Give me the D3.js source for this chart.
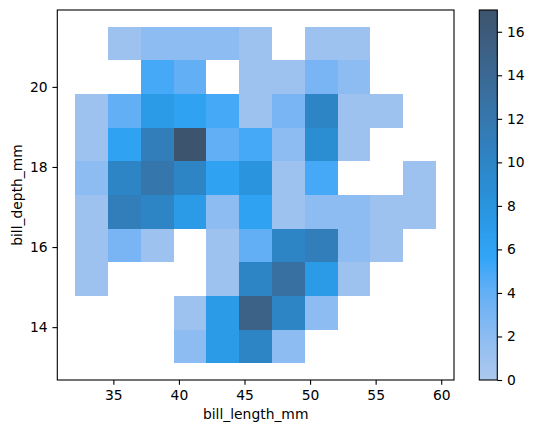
<!DOCTYPE html>
<html><head><meta charset="utf-8">
<script src="https://cdn.jsdelivr.net/npm/d3@7"></script>
<style>
body { margin: 0; background: #fff; }
svg text { font-family: "DejaVu Sans", sans-serif; font-size: 13.89px; fill: #000; }
</style>
</head><body><div id="chart"></div>
<script>
// bin edges (mm)
var lengthEdges = [32.1, 34.6, 37.1, 39.6, 42.1, 44.6, 47.1, 49.6, 52.1, 54.6, 57.1, 59.6];
var depthEdges = [13.1, 13.94, 14.78, 15.62, 16.46, 17.3, 18.14, 18.98, 19.82, 20.66, 21.5];
// counts, one row per depth bin (bottom row first), one column per length bin
var counts = [
    [0, 0, 0, 2, 7, 10, 2, 0, 0, 0, 0],
    [0, 0, 0, 1, 7, 15, 10, 2, 0, 0, 0],
    [1, 0, 0, 0, 1, 10, 13, 7, 1, 0, 0],
    [1, 3, 1, 0, 1, 4, 10, 11, 2, 1, 0],
    [1, 11, 10, 7, 2, 6, 1, 2, 2, 1, 1],
    [2, 10, 12, 10, 6, 8, 1, 5, 0, 0, 1],
    [1, 6, 11, 17, 4, 5, 2, 9, 1, 0, 0],
    [1, 4, 7, 6, 5, 1, 3, 10, 1, 1, 0],
    [0, 0, 5, 4, 0, 1, 1, 3, 2, 0, 0],
    [0, 1, 2, 2, 2, 1, 0, 1, 1, 0, 0]
];
var xTicks = [35, 40, 45, 50, 55, 60];
var yTicks = [14, 16, 18, 20];
var cTicks = [0, 2, 4, 6, 8, 10, 12, 14, 16];

/* husl colour ramp, light for low counts, dark for high ones */
var M = [[3.2406, -1.5372, -0.4986], [-0.9689, 1.8758, 0.0415], [0.0557, -0.2040, 1.0570]];
var M_INV = [[0.4124, 0.3576, 0.1805], [0.2126, 0.7152, 0.0722], [0.0193, 0.1192, 0.9505]];
var REF_U = 0.19784, REF_V = 0.46834;

function maxChroma(L, H) {
    var hrad = H * Math.PI / 180, sinH = Math.sin(hrad), cosH = Math.cos(hrad);
    var sub1 = Math.pow(L + 16, 3) / 1560896;
    var sub2 = sub1 > 0.008856 ? sub1 : L / 903.3;
    var result = Infinity;
    M.forEach(function (row) {
        var top = (0.99915 * row[0] + 1.05122 * row[1] + 1.14460 * row[2]) * sub2;
        var rb = 0.86330 * row[2] - 0.17266 * row[1];
        var lb = 0.12949 * row[2] - 0.38848 * row[0];
        var bottom = (rb * sinH + lb * cosH) * sub2;
        [0, 1].forEach(function (t) {
            var C = L * (top - 1.05122 * t) / (bottom + 0.17266 * sinH * t);
            if (C > 0 && C < result)
                result = C;
        });
    });
    return result;
}

function huslToRgb(H, S, L) {
    var C = maxChroma(L, H) / 100 * S;
    var hr = H * Math.PI / 180, U = Math.cos(hr) * C, V = Math.sin(hr) * C;
    var t = (L + 16) / 116;
    var Y = Math.pow(t, 3) > 0.008856 ? Math.pow(t, 3) : (116 * t - 16) / 903.3;
    var vU = U / (13 * L) + REF_U, vV = V / (13 * L) + REF_V;
    var X = -(9 * Y * vU) / ((vU - 4) * vV - vU * vV);
    var Z = (9 * Y - 15 * vV * Y - vV * X) / (3 * vV);
    return M.map(function (r) {
        var c = r[0] * X + r[1] * Y + r[2] * Z;
        c = c <= 0.0031308 ? 12.92 * c : 1.055 * Math.pow(c, 1 / 2.4) - 0.055;
        return Math.max(0, Math.min(1, c)) * 255;
    });
}

function rgbToHusl(hex) {
    var c = d3.rgb(hex);
    var lin = [c.r, c.g, c.b].map(function (v) {
        v /= 255;
        return v > 0.04045 ? Math.pow((v + 0.055) / 1.055, 2.4) : v / 12.92;
    });
    var xyz = M_INV.map(function (r) { return r[0] * lin[0] + r[1] * lin[1] + r[2] * lin[2]; });
    var d = xyz[0] + 15 * xyz[1] + 3 * xyz[2];
    var vU = 4 * xyz[0] / d, vV = 9 * xyz[1] / d;
    var Y = xyz[1];
    var L = 116 * (Y > 0.008856 ? Math.pow(Y, 1 / 3) : 7.787 * Y + 16 / 116) - 16;
    var U = 13 * L * (vU - REF_U), V = 13 * L * (vV - REF_V);
    var H = Math.atan2(V, U) * 180 / Math.PI;
    if (H < 0)
        H += 360;
    return [H, Math.sqrt(U * U + V * V) / maxChroma(L, H) * 100, L];
}

function makeCmap(hex) {
    var hs = rgbToHusl(hex);
    var n = Math.floor(1.15 * 256);
    var out = [];
    for (var i = 0; i < 256; i++) {
        var xx = -1 + 2 * i / (n - 1);
        var rgb = huslToRgb(hs[0], hs[1] * Math.cos(xx), 35 + 45 * i / 255);
        out.push(d3.rgb(rgb[0], rgb[1], rgb[2]).formatHex());
    }
    return out.reverse();
}

var cmap = makeCmap('#1f77b4');
var vmax = d3.max(counts, function (r) { return d3.max(r); });
var colorOf = function (v) {
    return cmap[Math.min(255, Math.floor(v / vmax * 256))];
};

var W = 534, H = 433;
var plot = {left: 57.3, right: 454, top: 10, bottom: 380};
var bar = {left: 479.3, right: 497.3};

var svg = d3.select('#chart').append('svg')
    .attr('width', W).attr('height', H)
    .attr('viewBox', [0, 0, W, H].join(' '));

var xPad = (lengthEdges[lengthEdges.length - 1] - lengthEdges[0]) * 0.05;
var yPad = (depthEdges[depthEdges.length - 1] - depthEdges[0]) * 0.05;
var x = d3.scaleLinear()
    .domain([lengthEdges[0] - xPad, lengthEdges[lengthEdges.length - 1] + xPad])
    .range([plot.left, plot.right]);
var y = d3.scaleLinear()
    .domain([depthEdges[0] - yPad, depthEdges[depthEdges.length - 1] + yPad])
    .range([plot.bottom, plot.top]);

var cells = [];
counts.forEach(function (row, j) {
    row.forEach(function (v, i) {
        if (v > 0)
            cells.push({i: i, j: j, v: v});
    });
});

svg.append('g').selectAll('rect')
    .data(cells)
    .enter()
    .append('rect')
    .attr('x', function (d) { return x(lengthEdges[d.i]); })
    .attr('y', function (d) { return y(depthEdges[d.j + 1]); })
    .attr('width', function (d) { return x(lengthEdges[d.i + 1]) - x(lengthEdges[d.i]); })
    .attr('height', function (d) { return y(depthEdges[d.j]) - y(depthEdges[d.j + 1]); })
    .attr('fill', function (d) { return colorOf(d.v); })
    .attr('shape-rendering', 'crispEdges');

var tickLen = 4.86, pad = 4.86;

var xAxis = svg.append('g')
    .attr('transform', 'translate(0,' + plot.bottom + ')')
    .call(d3.axisBottom(x).tickValues(xTicks).tickSize(tickLen).tickPadding(pad));
var yAxis = svg.append('g')
    .attr('transform', 'translate(' + plot.left + ',0)')
    .call(d3.axisLeft(y).tickValues(yTicks).tickSize(tickLen).tickPadding(pad));
[xAxis, yAxis].forEach(function (g) {
    g.select('.domain').remove();
    g.selectAll('.tick line').attr('stroke', '#000').attr('stroke-width', 1.1);
    g.attr('font-size', null).attr('font-family', null);
});
xAxis.selectAll('.tick text').attr('dy', '0.74em');

svg.append('rect')
    .attr('x', plot.left).attr('y', plot.top)
    .attr('width', plot.right - plot.left).attr('height', plot.bottom - plot.top)
    .attr('fill', 'none').attr('stroke', '#000').attr('stroke-width', 1.1);

svg.append('text')
    .attr('x', (plot.left + plot.right) / 2).attr('y', 419)
    .attr('text-anchor', 'middle')
    .text('bill_length_mm');
svg.append('text')
    .attr('transform', 'translate(22,' + (plot.top + plot.bottom) / 2 + ') rotate(-90)')
    .attr('text-anchor', 'middle')
    .text('bill_depth_mm');

// colorbar, drawn as a stepped gradient
var c = d3.scaleLinear().domain([0, vmax]).range([plot.bottom, plot.top]);
var grad = svg.append('defs').append('linearGradient')
    .attr('id', 'cbar')
    .attr('x1', 0).attr('y1', 1).attr('x2', 0).attr('y2', 0);
cmap.forEach(function (col, i) {
    grad.append('stop').attr('offset', i / 256).attr('stop-color', col);
    grad.append('stop').attr('offset', (i + 1) / 256).attr('stop-color', col);
});
svg.append('rect')
    .attr('x', bar.left).attr('y', c(vmax))
    .attr('width', bar.right - bar.left).attr('height', c(0) - c(vmax))
    .attr('fill', 'url(#cbar)');

var cAxis = svg.append('g')
    .attr('transform', 'translate(' + bar.right + ',0)')
    .call(d3.axisRight(c).tickValues(cTicks).tickSize(tickLen).tickPadding(pad));
cAxis.select('.domain').remove();
cAxis.selectAll('.tick line').attr('stroke', '#000').attr('stroke-width', 1.1);
cAxis.attr('font-size', null).attr('font-family', null);

svg.append('rect')
    .attr('x', bar.left).attr('y', plot.top)
    .attr('width', bar.right - bar.left).attr('height', plot.bottom - plot.top)
    .attr('fill', 'none').attr('stroke', '#000').attr('stroke-width', 1.1);
</script></body></html>
